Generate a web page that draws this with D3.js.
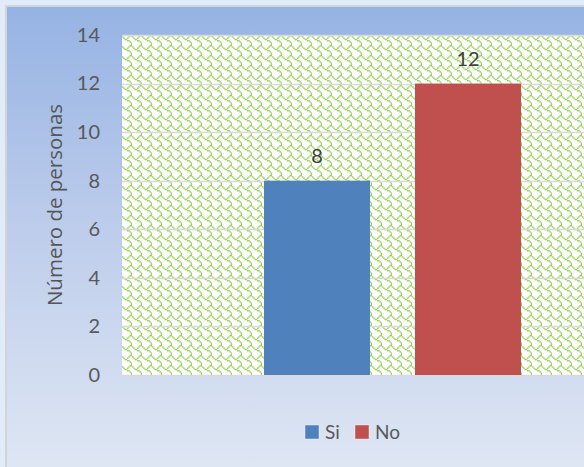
<!DOCTYPE html>
<html>
<head>
<meta charset="utf-8">
<script src="https://cdn.jsdelivr.net/npm/d3@7/dist/d3.min.js"></script>
<style>
  html, body { margin: 0; padding: 0; background: #e4edf8; }
  svg { display: block; }
  text { font-family: Lato, "Open Sans", sans-serif; }
</style>
</head>
<body>
<svg id="chart" width="584" height="467"></svg>
<script>
const categories = [""];
const seriesNames = ["Si", "No"];
const seriesValues = [8, 12];
const seriesColors = ["#4f81bd", "#c0504d"];
const yTicks = [0, 2, 4, 6, 8, 10, 12, 14];
const yTitle = "Número de personas";

const svg = d3.select("#chart");
const defs = svg.append("defs");

const grad = defs.append("linearGradient").attr("id", "bg").attr("x1", 0).attr("y1", 0).attr("x2", 0).attr("y2", 1);
grad.append("stop").attr("offset", "0%").attr("stop-color", "#95b3e3");
grad.append("stop").attr("offset", "45%").attr("stop-color", "#bccceb");
grad.append("stop").attr("offset", "100%").attr("stop-color", "#e1e8f4");

// shingle hatch pattern
const bits = [0x03, 0x84, 0x48, 0x30, 0x0c, 0x02, 0x01, 0x01];
const cell = 1.25;
const pat = defs.append("pattern").attr("id", "shingle").attr("patternUnits", "userSpaceOnUse")
  .attr("width", 8 * cell).attr("height", 8 * cell).attr("x", 122).attr("y", 35);
pat.append("rect").attr("width", 8 * cell).attr("height", 8 * cell).attr("fill", "#ffffff");
bits.forEach((b, r) => {
  for (let c = 0; c < 8; c++) {
    if (b & (0x80 >> c)) {
      pat.append("rect").attr("x", c * cell).attr("y", r * cell)
        .attr("width", cell + 0.2).attr("height", cell + 0.2).attr("fill", "#98d25a");
    }
  }
});

svg.append("rect").attr("x", 0).attr("y", 0).attr("width", 584).attr("height", 467).attr("fill", "#e2ecf8");
svg.append("rect").attr("x", 6).attr("y", 6).attr("width", 600).attr("height", 480)
  .attr("fill", "url(#bg)").attr("stroke", "#d2d4d8").attr("stroke-width", 2);

const plotLeft = 122, plotRight = 663, plotTop = 35, plotBottom = 375;

const y = d3.scaleLinear().domain([0, 14]).range([plotBottom, plotTop]);
const x0 = d3.scaleBand().domain(categories).range([plotLeft, plotRight]).paddingInner(0).paddingOuter(0.5525);
const x1 = d3.scaleBand().domain(seriesNames).range([0, x0.bandwidth()]).paddingInner(0.298).paddingOuter(0);

svg.append("rect").attr("x", plotLeft).attr("y", plotTop).attr("width", plotRight - plotLeft)
  .attr("height", plotBottom - plotTop).attr("fill", "url(#shingle)");

svg.append("g").selectAll("line").data(yTicks).join("line")
  .attr("x1", plotLeft).attr("x2", plotRight)
  .attr("y1", d => Math.round(y(d)) + 0.5).attr("y2", d => Math.round(y(d)) + 0.5)
  .attr("stroke", "#d9d9d9").attr("stroke-width", 1.5);

const yAxis = d3.axisLeft(y).tickValues(yTicks).tickSize(0).tickPadding(22).tickFormat(d3.format("d"));
const gy = svg.append("g").attr("transform", `translate(${plotLeft},0)`).call(yAxis);
gy.select(".domain").remove();
gy.selectAll("text").attr("fill", "#595959").style("font-size", "20px").style("font-family", "Lato, sans-serif");

svg.append("text").attr("transform", `translate(62,${(plotTop + plotBottom) / 2}) rotate(-90)`)
  .attr("text-anchor", "middle").attr("fill", "#555555")
  .style("font-family", "'Open Sans', sans-serif").style("font-size", "20.5px").text(yTitle);

const g = svg.append("g").attr("transform", `translate(${x0(categories[0])},0)`);
g.selectAll("rect").data(seriesNames).join("rect")
  .attr("x", (d) => x1(d)).attr("width", x1.bandwidth())
  .attr("y", (d, i) => y(seriesValues[i])).attr("height", (d, i) => y(0) - y(seriesValues[i]))
  .attr("fill", (d, i) => seriesColors[i]);

g.selectAll("text.lbl").data(seriesNames).join("text").attr("class", "lbl")
  .attr("x", d => x1(d) + x1.bandwidth() / 2)
  .attr("y", (d, i) => y(seriesValues[i]) - 18)
  .attr("text-anchor", "middle").attr("fill", "#404040").style("font-size", "20px")
  .text((d, i) => seriesValues[i]);

const legend = svg.append("g").attr("transform", "translate(305,425)");
const legX = [0, 50];
seriesNames.forEach((s, i) => {
  const lg = legend.append("g").attr("transform", `translate(${legX[i]},0)`);
  lg.append("rect").attr("width", 14).attr("height", 14).attr("fill", seriesColors[i])
    .attr("stroke", "#ffffff").attr("stroke-opacity", 0.5).attr("stroke-width", 0.8);
  lg.append("text").attr("x", 20).attr("y", 14).attr("fill", "#595959").style("font-size", "19px").text(s);
});
</script>
</body>
</html>
